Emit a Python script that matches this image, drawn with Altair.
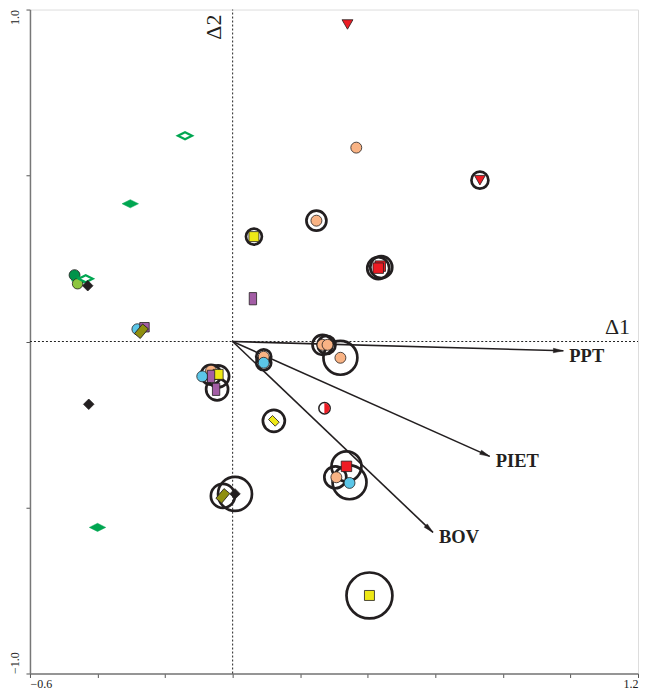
import altair as alt
import pandas as pd
import numpy as np

# ---- site scores ----
peach_x = [0.366, 0.248, 0.266, 0.281, 0.319, 0.092, -0.064, 0.307]
peach_y = [0.584, 0.364, -0.010, -0.010, -0.049, -0.046, -0.088, -0.409]
blue_x = [-0.282, 0.092, -0.090, 0.346]
blue_y = [0.037, -0.064, -0.105, -0.426]
dkgreen_x = [-0.468]
dkgreen_y = [0.200]
ltgreen_x = [-0.459]
ltgreen_y = [0.174]
tri_x = [0.340, 0.732]
tri_y = [0.955, 0.486]
redsq_x = [0.437, 0.431, 0.337]
redsq_y = [0.227, 0.221, -0.376]
yelsq_x = [0.063, -0.043, 0.405]
yelsq_y = [0.316, -0.099, -0.765]
yeltilt_x = [0.122]
yeltilt_y = [-0.239]
purp_x = [0.060, -0.064, -0.049]
purp_y = [0.129, -0.105, -0.144]
purpsq_x = [-0.261]
purpsq_y = [0.043]
olive_x = [-0.270, -0.029]
olive_y = [0.031, -0.465]
blackdia_x = [-0.429, -0.426, 0.007]
blackdia_y = [0.168, -0.189, -0.459]
greendia_x = [-0.303, -0.453, -0.400]
greendia_y = [0.415, 0.183, -0.560]
opendia_x = [-0.141, -0.435]
opendia_y = [0.620, 0.189]
half_x = [0.272]
half_y = [-0.201]

# ---- rings (value ~ diameter) ----
ring_x = [0.732, 0.248, 0.063, 0.431, 0.440, 0.266, 0.278, 0.319, 0.092, 0.092,
          -0.064, -0.043, -0.046, 0.122, 0.337, 0.304, 0.346, -0.029, 0.007, 0.405]
ring_y = [0.486, 0.364, 0.316, 0.221, 0.224, -0.010, -0.010, -0.049, -0.046, -0.064,
          -0.100, -0.105, -0.144, -0.239, -0.376, -0.409, -0.424, -0.465, -0.459, -0.765]
ring_v = [17, 20, 16, 22, 22, 20, 18, 34, 15, 15,
          20, 22, 22, 22, 30, 22, 34, 24, 34, 46]

# ---- environmental vectors ----
vec_names = ["PPT", "PIET", "BOV"]
vec_x = [0.979, 0.761, 0.593]
vec_y = [-0.028, -0.346, -0.575]

XD = [-0.6, 1.2]
YD = [-1.0, 1.0]
W, H = 609, 665
FONT = "Liberation Serif"

xs = alt.Scale(domain=XD, nice=False, zero=False)
ys = alt.Scale(domain=YD, nice=False, zero=False)

xaxis_vals = [-0.6, -0.4, -0.2, 0.0, 0.2, 0.4, 0.6, 0.8, 1.0, 1.2]
yaxis_vals = [-1.0, -0.5, 0.0, 0.5, 1.0]

XAX = alt.Axis(
    values=xaxis_vals, format=".1f",
    labelExpr="datum.value < -0.5 || datum.value > 1.1 ? datum.label : ''",
    grid=False, domainColor="#777777", domainWidth=1.5, tickColor="#555555",
    tickSize=4, labelFont=FONT, labelFontSize=12, labelColor="#222",
    labelFlush=True, labelPadding=1, title=None)
YAX = alt.Axis(
    values=yaxis_vals, format=".1f",
    labelExpr="abs(datum.value) > 0.9 ? datum.label : ''",
    grid=False, domainColor="#777777", domainWidth=1.5, tickColor="#555555",
    tickSize=4, labelFont=FONT, labelFontSize=12, labelColor="#222",
    labelAngle=270, labelFlush=False, labelPadding=4,
    labelAlign={"condition": {"test": "datum.value < 0", "value": "left"}, "value": "right"},
    labelBaseline="bottom",
    minExtent=22, maxExtent=22, title=None)


def X(f):
    return alt.X(f, scale=xs, axis=XAX, title=None)


def Y(f):
    return alt.Y(f, scale=ys, axis=YAX, title=None)


def enc(**kw):
    return dict(x=X("x:Q"), y=Y("y:Q"), **kw)


def pts(xv, yv, shape, fill, size, stroke="#231F20", sw=0.8, angle=0):
    df = pd.DataFrame({"x": xv, "y": yv})
    return alt.Chart(df).mark_point(
        shape=shape, filled=True, fill=fill, stroke=stroke, strokeWidth=sw,
        size=size, opacity=1, angle=angle
    ).encode(**enc())


RECT = "M-0.6,-1L0.6,-1L0.6,1L-0.6,1Z"
FLATDIA = "M-1,0L0,-0.5L1,0L0,0.5Z"
HALF = "M0,-1A1,1,0,0,1,0,1Z"
HEAD = "M0,0L0.45,2L-0.45,2Z"

zero_df = pd.DataFrame({"x": [0.0], "y": [0.0], "xa": [XD[0]], "xb": [XD[1]],
                        "ya": [YD[0]], "yb": [YD[1]]})
hline = alt.Chart(zero_df).mark_rule(color="#222", strokeWidth=1, strokeDash=[2, 2]).encode(
    x=X("xa:Q"), x2="xb:Q", y=Y("y:Q"))
vline = alt.Chart(zero_df).mark_rule(color="#222", strokeWidth=1, strokeDash=[2, 2]).encode(
    y=Y("ya:Q"), y2="yb:Q", x=X("x:Q"))

rings = alt.Chart(pd.DataFrame({"x": ring_x, "y": ring_y, "v": ring_v})).mark_point(
    shape="circle", filled=False, stroke="#231F20", strokeWidth=2.7, opacity=1
).encode(**enc(size=alt.Size("v:Q", scale=alt.Scale(type="pow", exponent=2, domain=[0, 50], range=[0, 2500]), legend=None)))

vdf = pd.DataFrame({"name": vec_names, "x": vec_x, "y": vec_y, "x0": 0.0, "y0": 0.0})
vdf["ang"] = np.degrees(np.arctan2(vdf["x"] * W / 1.8, vdf["y"] * H / 2.0)) % 360
arrows = alt.Chart(vdf).mark_rule(color="#231F20", strokeWidth=1.6).encode(
    x=X("x0:Q"), y=Y("y0:Q"), x2="x:Q", y2="y:Q")
heads = alt.Chart(vdf).mark_point(shape=HEAD, filled=True, fill="#231F20", stroke="#231F20",
                                   strokeWidth=0.5, size=100, opacity=1).encode(
    **enc(angle=alt.Angle("ang:Q", scale=None)))
vlabels = alt.Chart(vdf).mark_text(align="left", baseline="middle", dx=6, dy=5, font=FONT,
                                   fontWeight="bold", fontSize=18.5, color="#231F20").encode(
    **enc(text="name:N"))

ax_lab_df = pd.DataFrame({"x": [XD[1], 0.0], "y": [0.0, YD[1]], "t": ["Δ1", "Δ2"]})
d1 = alt.Chart(ax_lab_df.iloc[[0]]).mark_text(align="right", baseline="bottom", dx=-8, dy=-3,
                                              font=FONT, fontSize=22, color="#231F20").encode(**enc(text="t:N"))
d2 = alt.Chart(ax_lab_df.iloc[[1]]).mark_text(align="right", baseline="bottom", angle=270, dx=-5, dy=-7,
                                              font=FONT, fontSize=22, color="#231F20").encode(**enc(text="t:N"))

GREEN = "#00A651"
layers = [
    hline, vline, arrows, heads, vlabels, d1, d2, rings,
    pts(peach_x, peach_y, "circle", "#F9B384", 120),
    pts(blue_x, blue_y, "circle", "#5BC6E8", 120),
    pts(dkgreen_x, dkgreen_y, "circle", "#00934A", 120),
    pts(greendia_x, greendia_y, FLATDIA, GREEN, 270, stroke=GREEN, sw=0.5),
    pts(ltgreen_x, ltgreen_y, "circle", "#8DC63F", 110),
    pts(opendia_x, opendia_y, FLATDIA, "white", 200, stroke=GREEN, sw=2.2),
    pts(blackdia_x, blackdia_y, "diamond", "#231F20", 110),
    pts(tri_x, tri_y, "triangle-down", "#ED1C24", 120),
    pts(redsq_x, redsq_y, "square", "#ED1C24", 110),
    pts(yelsq_x, yelsq_y, "square", "#EEE815", 100),
    pts(yeltilt_x, yeltilt_y, RECT, "#EEE815", 90, angle=315),
    pts(purp_x, purp_y, RECT, "#A35DA5", 150),
    pts(purpsq_x, purpsq_y, "square", "#A35DA5", 90),
    pts(olive_x, olive_y, RECT, "#8F8F10", 160, angle=40),
    pts(half_x, half_y, "circle", "white", 130, sw=1.5),
    pts(half_x, half_y, HALF, "#ED1C24", 100, stroke="#ED1C24", sw=0.3),
]

chart = alt.layer(*layers).properties(
    width=W, height=H, padding={"left": 0, "top": 0, "right": 0, "bottom": 0}
).configure_view(stroke="#444444", strokeWidth=1.2).configure(background="white")

chart.save("out.html", embed_options={"renderer": "svg", "actions": False})
